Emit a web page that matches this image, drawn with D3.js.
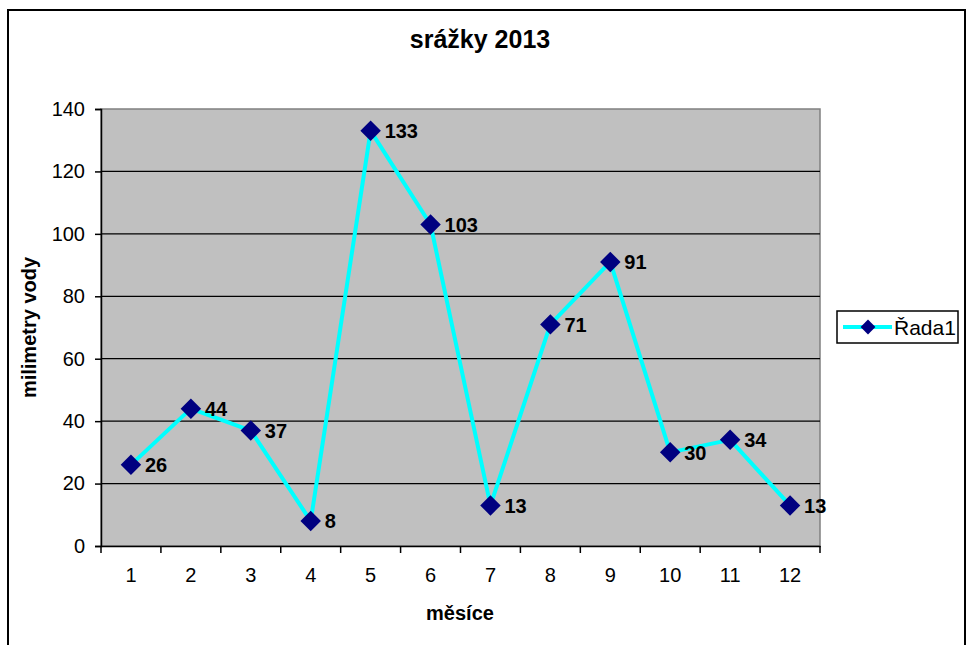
<!DOCTYPE html>
<html>
<head>
<meta charset="utf-8">
<script src="https://cdn.jsdelivr.net/npm/d3@7"></script>
<style>
  body { margin: 0; background: #fff; }
  svg text { font-family: Arial, "Liberation Sans", sans-serif; fill: #000; }
</style>
</head>
<body>
<script>
// data
const months = ['1', '2', '3', '4', '5', '6', '7', '8', '9', '10', '11', '12'];
const rainfall = [26, 44, 37, 8, 133, 103, 13, 71, 91, 30, 34, 13];
const yTicks = [0, 20, 40, 60, 80, 100, 120, 140];
const seriesName = 'Řada1';

const W = 971, H = 645;
const plot = { left: 101, right: 820, top: 109, bottom: 546 };

const svg = d3.select('body').append('svg')
  .attr('width', W)
  .attr('height', H);

// outer chart frame (bottom edge runs off the picture)
svg.append('rect')
  .attr('x', 8).attr('y', 10)
  .attr('width', 957).attr('height', 660)
  .attr('fill', '#fff')
  .attr('stroke', '#000')
  .attr('stroke-width', 2);

const x = d3.scaleBand().domain(months).range([plot.left, plot.right]);
const y = d3.scaleLinear().domain([0, 140]).range([plot.bottom, plot.top]);

// plot area
svg.append('rect')
  .attr('x', plot.left).attr('y', plot.top)
  .attr('width', plot.right - plot.left)
  .attr('height', plot.bottom - plot.top)
  .attr('fill', '#c0c0c0')
  .attr('stroke', '#808080')
  .attr('stroke-width', 1.5);

// gridlines
svg.selectAll('line.grid').data(yTicks.filter(d => d > 0 && d < 140)).enter()
  .append('line')
  .attr('class', 'grid')
  .attr('x1', plot.left).attr('x2', plot.right)
  .attr('y1', d => y(d)).attr('y2', d => y(d))
  .attr('stroke', '#000')
  .attr('stroke-width', 1.2);

// y axis
const yAxis = svg.append('g')
  .attr('transform', `translate(${plot.left},0)`)
  .call(d3.axisLeft(y).tickValues(yTicks).tickSize(6).tickPadding(10));
yAxis.selectAll('text').style('font-size', '20px');

// x axis, ticks sit on the band edges
const xAxis = svg.append('g')
  .attr('transform', `translate(0,${plot.bottom})`)
  .call(d3.axisBottom(x).tickSize(0).tickPadding(22));
xAxis.selectAll('text').style('font-size', '20px');
xAxis.selectAll('line.edge')
  .data(d3.range(months.length + 1)).enter()
  .append('line')
  .attr('x1', i => plot.left + i * x.step())
  .attr('x2', i => plot.left + i * x.step())
  .attr('y1', 0).attr('y2', 7)
  .attr('stroke', '#000')
  .attr('stroke-width', 1.5);

svg.selectAll('.domain').attr('stroke', '#000').attr('stroke-width', 1.5);
svg.selectAll('.tick line').attr('stroke', '#000').attr('stroke-width', 1.5);

// titles
svg.append('text')
  .attr('x', 480).attr('y', 48)
  .attr('text-anchor', 'middle')
  .style('font-size', '25px')
  .style('font-weight', 'bold')
  .text('srážky 2013');

svg.append('text')
  .attr('x', 460).attr('y', 620)
  .attr('text-anchor', 'middle')
  .style('font-size', '20px')
  .style('font-weight', 'bold')
  .text('měsíce');

svg.append('text')
  .attr('transform', `translate(36,${(plot.top + plot.bottom) / 2}) rotate(-90)`)
  .attr('text-anchor', 'middle')
  .style('font-size', '20px')
  .style('font-weight', 'bold')
  .text('milimetry vody');

// series line
const cx = (d, i) => x(months[i]) + x.bandwidth() / 2;
const line = d3.line().x(cx).y(d => y(d));

svg.append('path')
  .datum(rainfall)
  .attr('d', line)
  .attr('fill', 'none')
  .attr('stroke', '#00ffff')
  .attr('stroke-width', 4)
  .attr('stroke-linejoin', 'round');

const diamond = d3.symbol().type(d3.symbolSquare).size(210);

svg.selectAll('path.marker').data(rainfall).enter()
  .append('path')
  .attr('class', 'marker')
  .attr('d', diamond)
  .attr('transform', (d, i) => `translate(${cx(d, i)},${y(d)}) rotate(45)`)
  .attr('fill', '#000080');

svg.selectAll('text.lbl').data(rainfall).enter()
  .append('text')
  .attr('class', 'lbl')
  .attr('x', (d, i) => cx(d, i) + 14)
  .attr('y', d => y(d))
  .attr('dy', '0.36em')
  .style('font-size', '20px')
  .style('font-weight', 'bold')
  .text(d => d);

// legend
const lg = svg.append('g').attr('transform', 'translate(837,311)');
lg.append('rect')
  .attr('width', 121).attr('height', 32)
  .attr('fill', '#fff')
  .attr('stroke', '#000')
  .attr('stroke-width', 1.5);
lg.append('line')
  .attr('x1', 6).attr('x2', 55)
  .attr('y1', 16).attr('y2', 16)
  .attr('stroke', '#00ffff')
  .attr('stroke-width', 4);
lg.append('path')
  .attr('d', d3.symbol().type(d3.symbolSquare).size(110))
  .attr('transform', 'translate(31,16) rotate(45)')
  .attr('fill', '#000080');
lg.append('text')
  .attr('x', 57).attr('y', 16)
  .attr('dy', '0.36em')
  .style('font-size', '21px')
  .text(seriesName);
</script>
</body>
</html>
